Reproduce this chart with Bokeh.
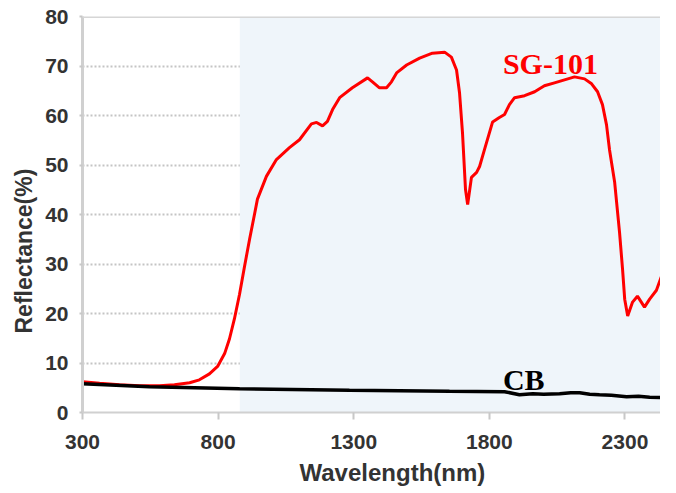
from bokeh.plotting import figure
from bokeh.models import Range1d, FixedTicker, BoxAnnotation, Span, Label, Title
from bokeh.embed import file_html
from bokeh.resources import INLINE

# ---- data ----
sg_wavelength = [300, 363, 436, 510, 584, 639, 695, 731, 768, 798, 824, 842, 860, 879, 897,
                 916, 934, 945, 978, 1015, 1063, 1100, 1144, 1163, 1185, 1203, 1222, 1248,
                 1295, 1351, 1369, 1395, 1421, 1439, 1458, 1495, 1543, 1590, 1635, 1660, 1679,
                 1690, 1701, 1712, 1720, 1734, 1753, 1764, 1782, 1812, 1837, 1856, 1874, 1893,
                 1930, 1967, 2003, 2040, 2077, 2114, 2151, 2177, 2199, 2217, 2232, 2243, 2262,
                 2280, 2291, 2299, 2310, 2328, 2346, 2372, 2391, 2416, 2438, 2457, 2486]
sg_reflectance = [6.2, 5.9, 5.6, 5.4, 5.4, 5.6, 6.0, 6.6, 7.8, 9.3, 11.9, 14.9, 18.9, 23.9, 29.4,
                  35.0, 40.0, 43.1, 47.7, 51.1, 53.5, 55.1, 58.3, 58.6, 57.9, 58.8, 61.2, 63.6,
                  65.6, 67.6, 66.8, 65.6, 65.6, 66.8, 68.6, 70.2, 71.6, 72.6, 72.8, 71.8, 69.2,
                  64.6, 56.5, 45.1, 42.0, 47.5, 48.5, 49.7, 53.1, 58.7, 59.6, 60.2, 62.2, 63.6,
                  64.0, 64.8, 66.0, 66.6, 67.2, 67.8, 67.4, 66.4, 64.8, 62.2, 58.1, 53.1, 46.5,
                  36.4, 29.0, 22.9, 19.5, 22.3, 23.5, 21.3, 22.9, 24.7, 28.0, 28.0, 30.4]

cb_wavelength = [300, 547, 879, 1284, 1653, 1856, 1911, 1960, 2000, 2059, 2100, 2133, 2170,
                 2206, 2250, 2306, 2350, 2391, 2440, 2486]
cb_reflectance = [5.8, 5.2, 4.8, 4.5, 4.3, 4.2, 3.6, 3.8, 3.7, 3.8, 4.0, 4.0, 3.7,
                  3.6, 3.5, 3.2, 3.3, 3.1, 3.0, 2.8]

x_ticks = [300, 800, 1300, 1800, 2300]
y_ticks = [0, 10, 20, 30, 40, 50, 60, 70, 80]
shade_start = 880
series_names = ["SG-101", "CB"]
x_title = "Wavelength(nm)"
y_title = "Reflectance(%)"

TICK_FONT = "Liberation Sans"
LABEL_FONT = "Liberation Serif"
TEXT_COLOR = "#333333"

p = figure(width=660, height=492, output_backend="svg", toolbar_location=None,
           x_range=Range1d(300, 2431), y_range=Range1d(0, 80),
           min_border_left=82, min_border_right=0, min_border_top=16, min_border_bottom=80)
p.outline_line_color = None
p.background_fill_color = "white"
p.border_fill_color = "white"

# light blue shaded region
p.add_layout(BoxAnnotation(left=shade_start, fill_color="#EFF5FA", fill_alpha=1.0,
                           line_color=None, level="underlay"))

# grid
p.xgrid.visible = False
p.ygrid.ticker = FixedTicker(ticks=y_ticks)
p.ygrid.grid_line_color = "#C4C4C4"
p.ygrid.grid_line_width = 2
p.ygrid.grid_line_dash = "2 2"

# axes
for ax in (p.xaxis[0], p.yaxis[0]):
    ax.axis_line_color = "#D0D0D0"
    ax.axis_line_width = 2
    ax.major_tick_line_color = "#C8C8C8"
    ax.major_tick_line_width = 2
    ax.major_tick_in = 0
    ax.minor_tick_line_color = None
    ax.major_label_text_font = TICK_FONT
    ax.major_label_text_font_style = "bold"
    ax.major_label_text_font_size = "21px"
    ax.major_label_text_color = TEXT_COLOR

p.xaxis.ticker = FixedTicker(ticks=x_ticks)
p.xaxis.major_tick_out = 7
p.xaxis.major_label_standoff = 15
p.yaxis.ticker = FixedTicker(ticks=y_ticks)
p.yaxis.major_tick_out = 3
p.yaxis.major_label_standoff = 11
p.yaxis.axis_line_width = 3

# axis titles as side titles (allow off-centre placement as in the reference)
p.add_layout(Title(text=x_title, align="left", offset=217, standoff=11,
                   text_font=TICK_FONT, text_font_style="bold", text_font_size="24px",
                   text_color=TEXT_COLOR), "below")
p.add_layout(Title(text=y_title, align="left", offset=79, standoff=12,
                   text_font=TICK_FONT, text_font_style="bold", text_font_size="23px",
                   text_color=TEXT_COLOR), "left")

# top border
p.add_layout(Span(location=80, dimension="width", line_color="#D6D6D6", line_width=3))

# curves
p.line(sg_wavelength, sg_reflectance, line_color="#FF0000", line_width=3)
p.line(cb_wavelength, cb_reflectance, line_color="#000000", line_width=3.5)

# series labels
p.add_layout(Label(x=1850, y=70.6, text=series_names[0], text_font=LABEL_FONT,
                   text_font_style="bold", text_font_size="30px", text_color="#FF0000",
                   text_baseline="alphabetic", text_align="left"))
p.add_layout(Label(x=1850, y=6.6, text=series_names[1], text_font=LABEL_FONT,
                   text_font_style="bold", text_font_size="30px", text_color="#000000",
                   text_baseline="alphabetic", text_align="left"))

open("out.html", "w").write(file_html(p, INLINE))
